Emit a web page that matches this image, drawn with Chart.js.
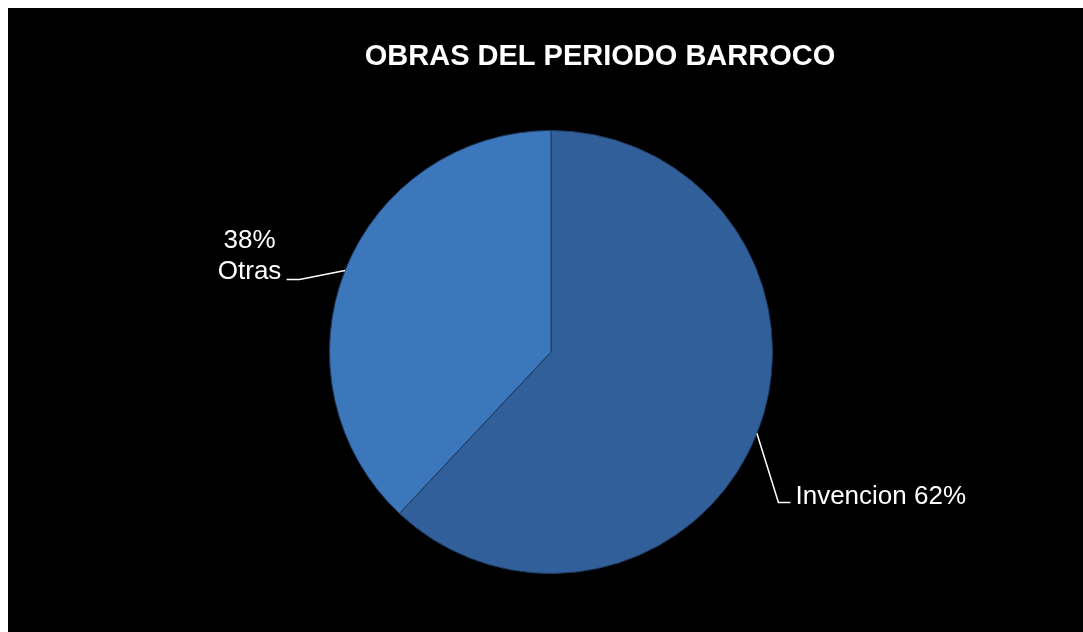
<!DOCTYPE html>
<html>
<head>
<meta charset="utf-8">
<script src="https://cdn.jsdelivr.net/npm/chart.js@4/dist/chart.umd.min.js"></script>
<style>
  body { margin: 0; background: #fff; }
  #wrap { position: absolute; left: 8px; top: 8px; width: 1075px; height: 624px; background: #000; }
</style>
</head>
<body>
<div id="wrap"><canvas id="pie" width="1075" height="624"></canvas></div>
<script>
const chartTitle = "OBRAS DEL PERIODO BARROCO";
const categories = ["Invencion", "Otras"];
const shares = [62, 38];
const sliceColors = [["#305f9a", "#244a7a"], ["#3c77bc", "#2d5e9a"]];

// leader line + text placement for each slice, relative to the slice's mid point on the rim
const labelLayout = [
  { elbow: [21.5, 69], end: [33.5, 69], text: [38.5, 70], align: "left", lines: c => [c.name + " " + c.pct + "%"] },
  { elbow: [-45.5, 9], end: [-58.5, 9], text: [-95.5, 9], align: "center", lines: c => [c.pct + "%", c.name] }
];

function fillFor(ctx) {
  const arc = ctx.element;
  const colors = sliceColors[ctx.dataIndex];
  if (!arc || !arc.outerRadius) return colors[0];
  const g = ctx.chart.ctx.createRadialGradient(arc.x, arc.y, 0, arc.x, arc.y, arc.outerRadius);
  g.addColorStop(0, colors[0]);
  g.addColorStop(0.93, colors[0]);
  g.addColorStop(1, colors[1]);
  return g;
}

const annotate = {
  id: "annotate",
  afterDatasetsDraw(chart) {
    const c = chart.ctx;
    c.save();
    c.fillStyle = "#fff";
    c.textBaseline = "alphabetic";
    c.font = "bold 29px 'Liberation Sans', Arial, sans-serif";
    c.textAlign = "center";
    c.fillText(chartTitle, 592, 57);

    const arcs = chart.getDatasetMeta(0).data;
    arcs.forEach((arc, i) => {
      const p = arc.getProps(["x", "y", "startAngle", "endAngle", "outerRadius"], true);
      const mid = (p.startAngle + p.endAngle) / 2;
      const ax = p.x + Math.cos(mid) * p.outerRadius;
      const ay = p.y + Math.sin(mid) * p.outerRadius;
      const L = labelLayout[i];
      c.strokeStyle = "#fff";
      c.lineWidth = 1.5;
      c.beginPath();
      c.moveTo(ax, ay);
      c.lineTo(ax + L.elbow[0], ay + L.elbow[1]);
      c.lineTo(ax + L.end[0], ay + L.end[1]);
      c.stroke();
      c.font = "26px 'Liberation Sans', Arial, sans-serif";
      c.textAlign = L.align;
      const lines = L.lines({ name: categories[i], pct: shares[i] });
      lines.forEach((t, k) => {
        c.fillText(t, ax + L.text[0], ay + L.text[1] - (lines.length - 1 - k) * 31);
      });
    });
    c.restore();
  }
};

new Chart(document.getElementById("pie"), {
  type: "pie",
  data: {
    labels: categories,
    datasets: [{
      data: shares,
      backgroundColor: fillFor,
      borderColor: "#1c3a60",
      borderWidth: 1
    }]
  },
  options: {
    responsive: false,
    animation: false,
    layout: { padding: { left: 321, right: 310, top: 122, bottom: 58 } },
    plugins: { legend: { display: false }, title: { display: false }, tooltip: { enabled: false } }
  },
  plugins: [annotate]
});
</script>
</body>
</html>
